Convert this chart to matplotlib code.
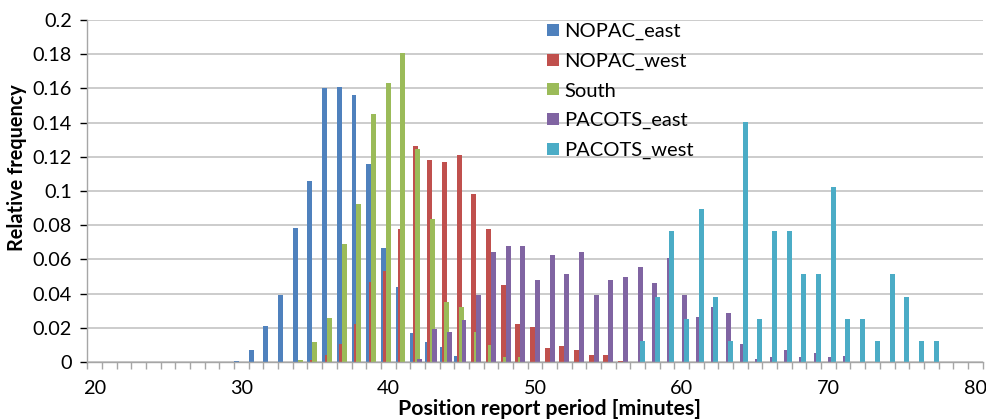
import numpy as np
import matplotlib
matplotlib.use("Agg")
import matplotlib.pyplot as plt
from matplotlib.patches import Patch

# Position report period categories (minutes)
minutes = list(range(20, 81))

# Relative frequency per category (only non-zero entries)
nopac_east = {30: 0.0005, 31: 0.007, 32: 0.021, 33: 0.039, 34: 0.0785, 35: 0.106,
              36: 0.160, 37: 0.161, 38: 0.156, 39: 0.116, 40: 0.0665, 41: 0.044,
              42: 0.017, 43: 0.0117, 44: 0.0086, 45: 0.0035}
nopac_west = {35: 0.001, 36: 0.0039, 37: 0.0105, 38: 0.022, 39: 0.047, 40: 0.0534,
              41: 0.0776, 42: 0.1263, 43: 0.118, 44: 0.117, 45: 0.1212, 46: 0.098,
              47: 0.0776, 48: 0.045, 49: 0.022, 50: 0.0205, 51: 0.0082, 52: 0.0095,
              53: 0.007, 54: 0.0039, 55: 0.0039, 56: 0.0008}
south = {34: 0.001, 35: 0.0117, 36: 0.026, 37: 0.0688, 38: 0.0924, 39: 0.145,
         40: 0.163, 41: 0.1805, 42: 0.1246, 43: 0.0834, 44: 0.035, 45: 0.032,
         46: 0.0174, 47: 0.010, 48: 0.0027, 49: 0.0027}
pacots_east = {42: 0.0015, 43: 0.0193, 44: 0.0177, 45: 0.0246, 46: 0.0392, 47: 0.0641,
               48: 0.0678, 49: 0.0678, 50: 0.048, 51: 0.0624, 52: 0.0517, 53: 0.0641,
               54: 0.0394, 55: 0.048, 56: 0.0499, 57: 0.0554, 58: 0.0462, 59: 0.0606,
               60: 0.0392, 61: 0.0265, 62: 0.032, 63: 0.0285, 64: 0.0103, 65: 0.0018,
               66: 0.0031, 67: 0.007, 68: 0.0031, 69: 0.0051, 70: 0.0031, 71: 0.0033}
pacots_west = {57: 0.0125, 58: 0.0382, 59: 0.0766, 60: 0.0253, 61: 0.0897, 62: 0.038,
               63: 0.0123, 64: 0.1405, 65: 0.0253, 66: 0.0766, 67: 0.0766, 68: 0.0513,
               69: 0.0513, 70: 0.1023, 71: 0.0253, 72: 0.0253, 73: 0.0123, 74: 0.0513,
               75: 0.038, 76: 0.0123, 77: 0.0123}

series_names = ["NOPAC_east", "NOPAC_west", "South", "PACOTS_east", "PACOTS_west"]
series_data = [nopac_east, nopac_west, south, pacots_east, pacots_west]
colors = ["#4F81BD", "#C0504D", "#9BBB59", "#8064A2", "#4BACC6"]

plt.rcParams["font.family"] = ["Lato", "DejaVu Sans"]

fig = plt.figure(figsize=(9.87, 4.19), dpi=100)
ax = fig.add_axes([0.0885, 0.136, 0.9070, 0.816])

x = np.array(minutes)
bar_w = 0.34
step = 0.165
for i, (name, data) in enumerate(zip(series_names, series_data)):
    vals = np.array([data.get(m, 0.0) for m in minutes])
    offset = -0.5 + bar_w / 2 + i * step
    ax.bar(x + offset, vals, width=bar_w, color=colors[i], zorder=3 + i, label=name)

ax.set_xlim(19.5, 80.5)
ax.set_ylim(0, 0.2)

# y axis
yticks = np.arange(0, 0.2001, 0.02)
ax.set_yticks(yticks)
ax.set_yticklabels(["0" if v == 0 else f"{v:.2f}".rstrip("0") for v in yticks])
ax.yaxis.grid(True, color="#BFBFBF", linewidth=1.1, zorder=0)
ax.set_axisbelow(True)

# x axis: labels at category centres, tick marks at category boundaries
ax.set_xticks(range(20, 81, 10))
ax.set_xticks(np.arange(19.5, 80.6, 1), minor=True)
ax.tick_params(axis="x", which="major", length=0, pad=13)
ax.tick_params(axis="x", which="minor", length=5, color="#A6A6A6", width=1)
ax.tick_params(axis="y", length=5, color="#A6A6A6", width=1, pad=6)
ax.tick_params(labelsize=14.3, colors="#000000")

for s in ["top", "right"]:
    ax.spines[s].set_visible(False)
for s in ["left", "bottom"]:
    ax.spines[s].set_color("#A6A6A6")
    ax.spines[s].set_linewidth(1)
    ax.spines[s].set_zorder(10)

fig.text(0.557, 0.024, "Position report period [minutes]", ha="center", va="center",
         fontsize=15.3, fontweight="bold")
fig.text(0.017, 0.6, "Relative frequency", ha="center", va="center", rotation=90,
         fontsize=14.3, fontweight="bold")

handles = [Patch(facecolor=c, label=n) for c, n in zip(colors, series_names)]
ax.legend(handles=handles, loc="upper left", bbox_to_anchor=(0.505, 1.015),
          frameon=False, fontsize=14.5, handlelength=0.55, handleheight=0.55,
          handletextpad=0.3, labelspacing=0.62, borderaxespad=0)

fig.savefig("out.png", dpi=100)
